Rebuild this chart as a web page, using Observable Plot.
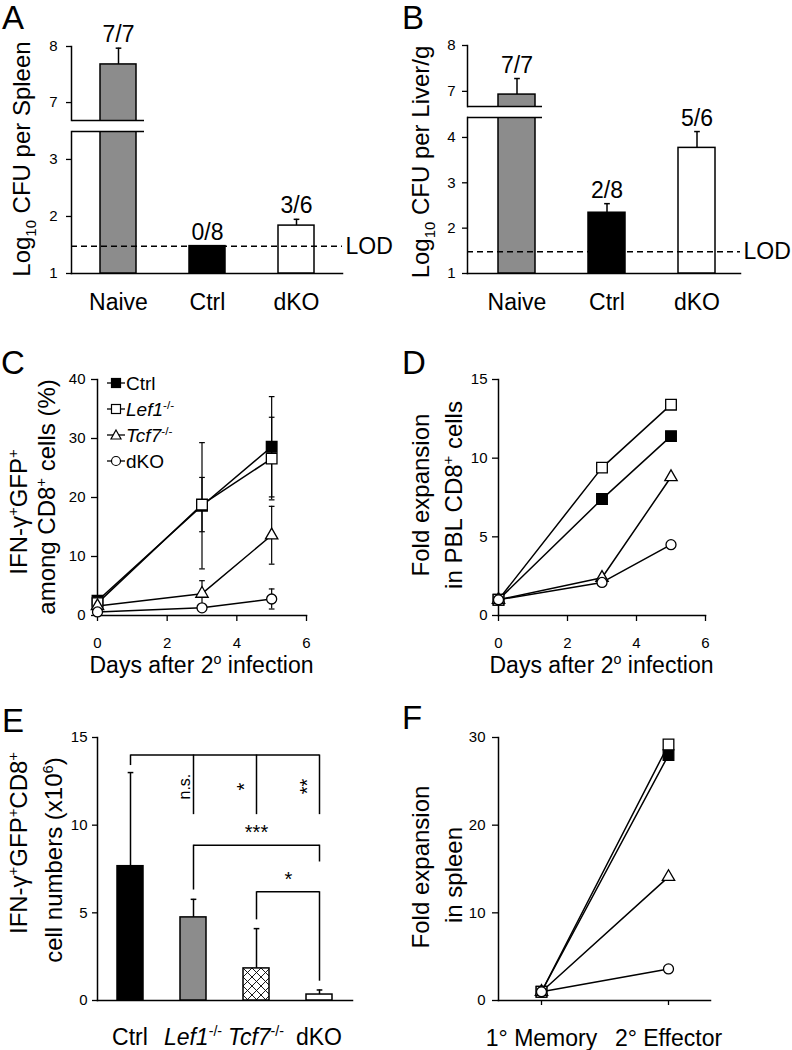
<!DOCTYPE html>
<html><head><meta charset="utf-8">
<script src="https://cdn.jsdelivr.net/npm/d3@7"></script>
<script src="https://cdn.jsdelivr.net/npm/@observablehq/plot@0.6"></script>
<style>
body{margin:0;background:#fff;}
#fig{position:relative;width:792px;height:1050px;background:#fff;font-family:"Liberation Sans",Arial,Helvetica,sans-serif;color:#000;overflow:hidden;}
.abs{position:absolute;white-space:nowrap;line-height:1;}
.rot{position:absolute;white-space:nowrap;line-height:1.15;font-size:24px;transform:translate(-50%,-50%) rotate(-90deg);}
sup,sub{font-size:0.62em;line-height:0;}
</style></head><body><div id="fig"></div>
<script>
// ---------------- data ----------------
// A: spleen
const groupsAB = ["Naive", "Ctrl", "dKO"];
const spleenMean = [7.68, 1.48, 1.84];
const spleenErr = [0.29, 0, 0.11];
const spleenPositive = ["7/7", "0/8", "3/6"];
const spleenTicks = [1, 2, 3, 7, 8];
const spleenBreak = [3.49, 6.68];
// B: liver
const liverMean = [6.93, 2.34, 3.77];
const liverErr = [0.35, 0.20, 0.36];
const liverPositive = ["7/7", "2/8", "5/6"];
const liverTicks = [1, 2, 3, 4, 7, 8];
const liverBreak = [4.44, 6.67];
const LOD = 1.48;
// C, D: time course
const genotypes = ["Ctrl", "Lef1", "Tcf7", "dKO"];
const days = [0, 3, 5];
const dayTicks = [0, 2, 4, 6];
const ifngCtrl = [2.5, 18.6, 28.6], ifngCtrlErr = [0.6, 10.7, 8.5];
const ifngLef1 = [2.1, 18.8, 26.6], ifngLef1Err = [0.5, 4.6, 7.0];
const ifngTcf7 = [1.6, 3.7, 13.6], ifngTcf7Err = [0.5, 2.2, 4.9];
const ifngDKO = [0.6, 1.3, 2.8], ifngDKOErr = [0.3, 0.5, 1.7];
const ifngTicks = [0, 10, 20, 30, 40];
const pblCtrl = [1.0, 7.4, 11.4];
const pblLef1 = [1.0, 9.4, 13.4];
const pblTcf7 = [1.0, 2.4, 8.8];
const pblDKO = [1.0, 2.1, 4.5];
const pblTicks = [0, 5, 10, 15];
// E: cell numbers
const cellMean = [7.66, 4.74, 1.83, 0.34];
const cellErr = [5.34, 1.03, 2.27, 0.26];
const cellTicks = [0, 5, 10, 15];
const sigSpans = [["Ctrl", "dKO", 14.0], ["Lef1", "dKO", 8.86], ["Tcf7", "dKO", 6.2]];
const sigDrops = [["Ctrl", 14.0, 13.4], ["Lef1", 14.0, 10.6], ["Tcf7", 14.0, 10.6], ["dKO", 14.0, 10.6],
                  ["Lef1", 8.86, 6.3], ["dKO", 8.86, 7.9], ["Tcf7", 6.2, 4.6], ["dKO", 6.2, 1.1]];
const sigNS = [["Lef1", "n.s.", 12.2]];
const sigVertical = [["Tcf7", "*", 12.2], ["dKO", "**", 12.2]];
const sigTriple = [["Tcf7", "***", 9.6]];
const sigLast = [["Tcf7", "*", 6.9]];
// F: spleen fold expansion
const phases = ["1° Memory", "2° Effector"];
const splCtrl = [1.0, 28.0];
const splLef1 = [1.0, 29.2];
const splTcf7 = [1.0, 14.1];
const splDKO = [1.0, 3.6];
const splTicks = [0, 10, 20, 30];

// ---------------- styles ----------------
const FONT = "'Liberation Sans', Arial, Helvetica, sans-serif";
const GRAY = "#8c8c8c";
const fig = document.getElementById("fig");
const baseStyle = {fontFamily: FONT, fontSize: "15px", overflow: "visible", background: "transparent", color: "black"};
const capSymbol = {draw(ctx, size) { const w = Math.sqrt(size); ctx.moveTo(-w, 0); ctx.lineTo(w, 0); }};
const markStyle = {
  Ctrl: {symbol: "square", fill: "black", r: 6},
  Lef1: {symbol: "square", fill: "white", r: 6},
  Tcf7: {symbol: "triangle", fill: "white", r: 4.6},
  dKO: {symbol: "circle", fill: "white", r: 5}
};
const intFmt = d3.format("d");

function place(svg, left, top) {
  svg.style.position = "absolute";
  svg.style.left = left + "px";
  svg.style.top = top + "px";
  fig.appendChild(svg);
  return svg;
}
function html(content, left, top, css = "") {
  const d = document.createElement("div");
  d.className = "abs";
  d.style.cssText = `left:${left}px;top:${top}px;${css}`;
  d.innerHTML = content;
  fig.appendChild(d);
  return d;
}
function rot(content, cx, cy) {
  const d = document.createElement("div");
  d.className = "rot";
  d.style.left = cx + "px";
  d.style.top = cy + "px";
  d.innerHTML = content;
  fig.appendChild(d);
}

// ---------------- A & B (broken y axis: upper + lower segment) ----------------
function cfuPanel(p, left) {
  const rows = groupsAB.map((g, i) => ({g, v: p.mean[i], e: p.err[i], n: p.pos[i]}));
  const fillOf = {Naive: GRAY, Ctrl: "black", dKO: "white"};
  const xOpts = {type: "band", domain: groupsAB, paddingInner: p.pi, paddingOuter: p.po, align: p.align};
  const common = {width: 396, marginLeft: 71, marginRight: p.marginRight, style: baseStyle, color: {type: "identity"}};
  const barMarks = (lo, hi) => {
    const inSeg = rows.filter(d => d.v > lo);
    const errRows = rows.filter(d => d.e > 0 && d.v + d.e > lo && d.v + d.e <= hi);
    const labelRows = rows.filter(d => d.v + d.e > lo && d.v + d.e <= hi);
    return [
      Plot.ruleX(errRows, {x: "g", y1: "v", y2: d => d.v + d.e, strokeWidth: 1.5, clip: true}),
      Plot.dot(errRows, {x: "g", y: d => d.v + d.e, symbol: capSymbol, r: 1.6, stroke: "black", fill: "none", strokeWidth: 1.5}),
      Plot.barY(inSeg, {x: "g", y1: 1, y2: "v", fill: d => fillOf[d.g], stroke: "black", strokeWidth: 1.5, clip: true}),
      Plot.text(labelRows, {x: "g", y: d => d.v + d.e, text: "n", lineAnchor: "bottom", dy: -6, fontSize: 23})
    ];
  };
  // upper segment
  const upper = Plot.plot({
    ...common, height: p.px.upperBottom, marginTop: p.px.top, marginBottom: 0,
    x: {...xOpts, axis: null},
    y: {domain: [p.brk[1], 8]},
    marks: [
      Plot.axisY({ticks: p.ticks.filter(t => t >= p.brk[1]), tickFormat: intFmt, tickSize: 5, tickPadding: p.tickPadding, fontSize: 15, label: null, strokeWidth: 1.3}),
      Plot.frame({anchor: "left", strokeWidth: 1.5}),
      ...barMarks(p.brk[1], 8),
      Plot.tickY([p.brk[1]], {x: () => "Naive", y: d => d, insetLeft: p.brkLeft, insetRight: p.brkRight, strokeWidth: 1.5})
    ]
  });
  // lower segment
  const lowerTop = p.px.upperBottom;
  const lower = Plot.plot({
    ...common, height: 320 - lowerTop, marginTop: p.px.lowerTop - lowerTop, marginBottom: 320 - p.px.bottom,
    x: xOpts,
    y: {domain: [1, p.brk[0]]},
    marks: [
      Plot.axisY({ticks: p.ticks.filter(t => t <= p.brk[0]), tickFormat: intFmt, tickSize: 5, tickPadding: p.tickPadding, fontSize: 15, label: null, strokeWidth: 1.3}),
      Plot.axisX({tickSize: 0, tickPadding: 20, fontSize: 23, label: null}),
      Plot.frame({anchor: "left", strokeWidth: 1.5}),
      Plot.frame({anchor: "bottom", strokeWidth: 1.5}),
      ...barMarks(-Infinity, p.brk[0]),
      Plot.tickY([p.brk[0]], {x: () => "Naive", y: d => d, insetLeft: p.brkLeft, insetRight: p.brkRight, strokeWidth: 1.5}),
      Plot.ruleY([LOD], {strokeDasharray: "6,4", strokeWidth: 1.5}),
      Plot.text([LOD], {y: d => d, text: () => "LOD", frameAnchor: "right", textAnchor: "start", dx: 3, fontSize: 23})
    ]
  });
  place(upper, left, 0);
  place(lower, left, lowerTop);
}
cfuPanel({mean: spleenMean, err: spleenErr, pos: spleenPositive, ticks: spleenTicks, brk: spleenBreak,
  marginRight: 54, pi: 0.599, po: 0.309, align: 0.505, tickPadding: 9,
  px: {top: 46, upperBottom: 120, lowerTop: 131, bottom: 273}, brkLeft: -28, brkRight: -8}, 0);
cfuPanel({mean: liverMean, err: liverErr, pos: liverPositive, ticks: liverTicks, brk: liverBreak,
  marginRight: 52, pi: 0.589, po: 0.311, align: 0.554, tickPadding: 7,
  px: {top: 45, upperBottom: 106, lowerTop: 117, bottom: 273}, brkLeft: -31, brkRight: -7}, 396);

// ---------------- line panels ----------------
function rowsOf(xs, series, errs) {
  const out = [];
  genotypes.forEach((g, k) => xs.forEach((x, i) => out.push({g, x, v: series[k][i], e: errs ? errs[k][i] : 0})));
  return out;
}
function seriesDots(rows) {
  return genotypes.map(g => Plot.dot(rows.filter(d => d.g === g), {
    x: "x", y: "v", symbol: markStyle[g].symbol, r: markStyle[g].r,
    fill: markStyle[g].fill, stroke: "black", strokeWidth: 1.3
  }));
}

// C
const rowsC = rowsOf(days, [ifngCtrl, ifngLef1, ifngTcf7, ifngDKO], [ifngCtrlErr, ifngLef1Err, ifngTcf7Err, ifngDKOErr]);
place(Plot.plot({
  width: 396, height: 360, marginLeft: 97, marginRight: 90, marginTop: 59, marginBottom: 65,
  style: baseStyle,
  x: {domain: [0, 6]}, y: {domain: [0, 40]},
  marks: [
    Plot.axisY({ticks: ifngTicks, tickFormat: intFmt, tickSize: 6, tickPadding: 6, fontSize: 15, label: null, strokeWidth: 1.3}),
    Plot.axisX({ticks: dayTicks, tickFormat: intFmt, tickSize: 6, tickPadding: 16, fontSize: 15, label: null, strokeWidth: 1.3}),
    Plot.frame({anchor: "left", strokeWidth: 1.5}),
    Plot.frame({anchor: "bottom", strokeWidth: 1.5}),
    Plot.ruleX(rowsC, {x: "x", y1: d => d.v - d.e, y2: d => d.v + d.e, strokeWidth: 1.2}),
    Plot.dot(rowsC, {x: "x", y: d => d.v + d.e, symbol: capSymbol, r: 1.6, stroke: "black", fill: "none", strokeWidth: 1.2}),
    Plot.dot(rowsC, {x: "x", y: d => d.v - d.e, symbol: capSymbol, r: 1.6, stroke: "black", fill: "none", strokeWidth: 1.2}),
    Plot.line(rowsC, {x: "x", y: "v", z: "g", stroke: "black", strokeWidth: 1.5}),
    ...seriesDots(rowsC)
  ]
}), 0, 320);

// D
const rowsD = rowsOf(days, [pblCtrl, pblLef1, pblTcf7, pblDKO]);
place(Plot.plot({
  width: 396, height: 360, marginLeft: 102, marginRight: 87, marginTop: 59, marginBottom: 65,
  style: baseStyle,
  x: {domain: [0, 6]}, y: {domain: [0, 15]},
  marks: [
    Plot.axisY({ticks: pblTicks, tickFormat: intFmt, tickSize: 6, tickPadding: 5, fontSize: 15, label: null, strokeWidth: 1.3}),
    Plot.axisX({ticks: dayTicks, tickFormat: intFmt, tickSize: 6, tickPadding: 16, fontSize: 15, label: null, strokeWidth: 1.3}),
    Plot.frame({anchor: "left", strokeWidth: 1.5}),
    Plot.frame({anchor: "bottom", strokeWidth: 1.5}),
    Plot.line(rowsD, {x: "x", y: "v", z: "g", stroke: "black", strokeWidth: 1.5}),
    ...seriesDots(rowsD)
  ]
}), 396, 320);

// E
const rowsE = genotypes.map((g, i) => ({g, v: cellMean[i], e: cellErr[i]}));
const fillE = {Ctrl: "black", Lef1: GRAY, Tcf7: "url(#xhatch)", dKO: "white"};
const plotE = Plot.plot({
  width: 396, height: 370, marginLeft: 97, marginRight: 44, marginTop: 57, marginBottom: 50,
  style: baseStyle,
  x: {type: "band", domain: genotypes, paddingInner: 0.59, paddingOuter: 0.303, align: 0.49, axis: null},
  y: {domain: [0, 15]},
  color: {type: "identity"},
  marks: [
    Plot.axisY({ticks: cellTicks, tickFormat: intFmt, tickSize: 5, tickPadding: 5, fontSize: 15, label: null, strokeWidth: 1.3}),
    Plot.frame({anchor: "left", strokeWidth: 1.5}),
    Plot.frame({anchor: "bottom", strokeWidth: 1.5}),
    Plot.ruleX(rowsE, {x: "g", y1: "v", y2: d => d.v + d.e, strokeWidth: 1.5}),
    Plot.dot(rowsE, {x: "g", y: d => d.v + d.e, symbol: capSymbol, r: 1.6, stroke: "black", fill: "none", strokeWidth: 1.5}),
    Plot.barY(rowsE, {x: "g", y1: 0, y2: "v", fill: d => fillE[d.g], stroke: "black", strokeWidth: 1.5}),
    Plot.link(sigSpans, {x1: d => d[0], x2: d => d[1], y1: d => d[2], y2: d => d[2], stroke: "black", strokeWidth: 1.5}),
    Plot.ruleX(sigDrops, {x: d => d[0], y1: d => d[1], y2: d => d[2], strokeWidth: 1.5}),
    Plot.text(sigNS, {x: d => d[0], y: d => d[2], text: d => d[1], rotate: -90, dx: -9, fontSize: 16, fill: "black"}),
    Plot.text(sigVertical, {x: d => d[0], y: d => d[2], text: d => d[1], rotate: -90, dx: -12, fontSize: 20, fill: "black"}),
    Plot.text(sigTriple, {x: d => d[0], y: d => d[2], text: d => d[1], fontSize: 20, fill: "black"}),
    Plot.text(sigLast, {x: d => d[0], y: d => d[2], text: d => d[1], dx: 32, fontSize: 20, fill: "black"})
  ]
});
{
  const ns = "http://www.w3.org/2000/svg";
  const defs = document.createElementNS(ns, "defs");
  defs.innerHTML = '<pattern id="xhatch" patternUnits="userSpaceOnUse" width="9" height="9">' +
    '<rect width="9" height="9" fill="white"/>' +
    '<path d="M0,0L9,9M9,0L0,9" stroke="black" stroke-width="0.9"/></pattern>';
  plotE.insertBefore(defs, plotE.firstChild);
}
place(plotE, 0, 680);

// F
const rowsF = rowsOf(phases, [splCtrl, splLef1, splTcf7, splDKO]);
place(Plot.plot({
  width: 396, height: 370, marginLeft: 102, marginRight: 82, marginTop: 57, marginBottom: 50,
  style: baseStyle,
  x: {type: "point", domain: phases, padding: 0.33},
  y: {domain: [0, 30]},
  marks: [
    Plot.axisY({ticks: splTicks, tickFormat: intFmt, tickSize: 6, tickPadding: 7, fontSize: 15, label: null, strokeWidth: 1.3}),
    Plot.axisX({tickSize: 5, tickPadding: 24, fontSize: 23, label: null, strokeWidth: 1.3}),
    Plot.frame({anchor: "left", strokeWidth: 1.5}),
    Plot.frame({anchor: "bottom", strokeWidth: 1.5}),
    Plot.line(rowsF, {x: "x", y: "v", z: "g", stroke: "black", strokeWidth: 1.5}),
    ...seriesDots(rowsF)
  ]
}), 396, 680);

// ---------------- text overlays ----------------
const letterCss = "font-size:33px;";
html("A", 2, 1, letterCss);
html("B", 402, 1, letterCss);
html("C", 1, 346, letterCss);
html("D", 402, 346, letterCss);
html("E", 2, 704, letterCss);
html("F", 402, 701, letterCss);

rot("Log<sub>10</sub> CFU per Spleen", 22, 159);
rot("Log<sub>10</sub> CFU per Liver/g", 421, 162);
rot("IFN-γ<sup>+</sup>GFP<sup>+</sup>", 19, 512);
rot("among CD8<sup>+</sup> cells (%)", 47, 497);
rot("Fold expansion", 421, 495);
rot("in PBL CD8<sup>+</sup> cells", 454, 495);
rot("IFN-γ<sup>+</sup>GFP<sup>+</sup>CD8<sup>+</sup>", 19, 843);
rot("cell numbers (x10<sup>6</sup>)", 54, 860);
rot("Fold expansion", 421, 867);
rot("in spleen", 454, 875);

html("Days after 2<sup>o</sup> infection", 201.5, 654, "font-size:23px;transform:translateX(-50%);");
html("Days after 2<sup>o</sup> infection", 601.5, 654, "font-size:23px;transform:translateX(-50%);");

{
  const sx = plotE.scale("x");
  const labelsE = {Ctrl: "Ctrl", Lef1: "<i>Lef1</i><sup>-/-</sup>", Tcf7: "<i>Tcf7</i><sup>-/-</sup>", dKO: "dKO"};
  genotypes.forEach(g => {
    const cx = sx.apply(g) + sx.bandwidth / 2;
    html(labelsE[g], cx, 1026, "font-size:23px;transform:translateX(-50%);");
  });
}

{
  const legendNames = {Ctrl: "Ctrl", Lef1: "<i>Lef1</i><sup>-/-</sup>", Tcf7: "<i>Tcf7</i><sup>-/-</sup>", dKO: "dKO"};
  const shapes = {
    Ctrl: '<rect x="4.5" y="2.5" width="9" height="9" fill="black" stroke="black" stroke-width="1.2"/>',
    Lef1: '<rect x="4.5" y="2.5" width="9" height="9" fill="white" stroke="black" stroke-width="1.2"/>',
    Tcf7: '<path d="M9,2 L14,11 L4,11 Z" fill="white" stroke="black" stroke-width="1.2"/>',
    dKO: '<circle cx="9" cy="7" r="4.5" fill="white" stroke="black" stroke-width="1.2"/>'
  };
  genotypes.forEach((g, i) => {
    const cy = 383 + i * 26;
    html('<svg width="18" height="14" style="display:block"><line x1="0" x2="18" y1="7" y2="7" stroke="black" stroke-width="1.3"/>' + shapes[g] + '</svg>', 107, cy - 7);
    html(legendNames[g], 126, cy - 9.5, "font-size:19px;");
  });
}
</script></body></html>
